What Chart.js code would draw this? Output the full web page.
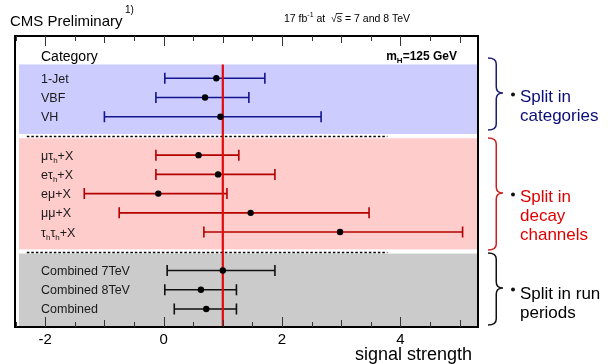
<!DOCTYPE html>
<html>
<head>
<meta charset="utf-8">
<script src="https://cdn.jsdelivr.net/npm/chart.js@4.4.1/dist/chart.umd.min.js"></script>
<style>
html,body{margin:0;padding:0;background:#fff;}
canvas{display:block;}
</style>
</head>
<body>
<canvas id="c" width="608" height="364"></canvas>
<script>
// ---- data ----
const catLabels  = ['1-Jet', 'VBF', 'VH'];
const catMu      = [0.89, 0.70, 0.96];
const catLo      = [0.02, -0.13, -1.00];
const catHi      = [1.71, 1.44, 2.66];

const decayLabels = ['μτ_{h}+X', 'eτ_{h}+X', 'eμ+X', 'μμ+X', 'τ_{h}τ_{h}+X'];
const decayMu     = [0.59, 0.92, -0.09, 1.47, 2.98];
const decayLo     = [-0.13, -0.13, -1.34, -0.75, 0.68];
const decayHi     = [1.27, 1.88, 1.07, 3.47, 5.05];

const runLabels = ['Combined 7TeV', 'Combined 8TeV', 'Combined'];
const runMu     = [1.00, 0.63, 0.72];
const runLo     = [0.06, 0.02, 0.18];
const runHi     = [1.88, 1.23, 1.23];

const xTickValues = [-2, 0, 2, 4];
const smValue = 1;

const groupNotes = [
  ['Split in', 'categories'],
  ['Split in', 'decay', 'channels'],
  ['Split in run', 'periods']
];

// ---- build groups (rows follow one after another, one blank row between groups) ----
const groups = [
  {labels: catLabels,   mu: catMu,   lo: catLo,   hi: catHi,   bar: '#14148c', band: '#ccccff', note: '#0c0c78', brace: '#1c1c70'},
  {labels: decayLabels, mu: decayMu, lo: decayLo, hi: decayHi, bar: '#b40000', band: '#ffcccc', note: '#e00000', brace: '#cc2020'},
  {labels: runLabels,   mu: runMu,   lo: runLo,   hi: runHi,   bar: '#111111', band: '#cbcbcb', note: '#000000', brace: '#111111'}
];
let row = 2;
groups.forEach(g => {
  g.rows = g.labels.map(() => row++);
  row++;
});

const FONT = '"Liberation Sans", Arial, Helvetica, sans-serif';

function drawSubText(ctx, text, x, y, size, subSize, bold) {
  const parts = text.split(/(_\{[^}]*\})/).filter(s => s.length);
  let cx = x;
  parts.forEach(p => {
    if (p.startsWith('_{')) {
      const s = p.slice(2, -1);
      ctx.font = (bold ? 'bold ' : '') + subSize + 'px ' + FONT;
      ctx.fillText(s, cx, y + 3);
      cx += ctx.measureText(s).width;
    } else {
      ctx.font = (bold ? 'bold ' : '') + size + 'px ' + FONT;
      ctx.fillText(p, cx, y);
      cx += ctx.measureText(p).width;
    }
  });
  return cx - x;
}

function drawBrace(ctx, xl, xt, top, bottom, tip, color) {
  const xm = xl + (xt - xl) * 0.55, r = 6;
  ctx.save();
  ctx.strokeStyle = color; ctx.lineWidth = 1.5;
  ctx.beginPath();
  ctx.moveTo(xl, top);
  ctx.quadraticCurveTo(xm, top, xm, top + r);
  ctx.lineTo(xm, tip - r);
  ctx.quadraticCurveTo(xm, tip, xt, tip);
  ctx.quadraticCurveTo(xm, tip, xm, tip + r);
  ctx.lineTo(xm, bottom - r);
  ctx.quadraticCurveTo(xm, bottom, xl, bottom);
  ctx.stroke();
  ctx.restore();
}

const cmsPlugin = {
  id: 'cms',
  beforeDatasetsDraw(chart) {
    const {ctx, chartArea: a, scales: {x, y}} = chart;
    ctx.save();
    // bands
    const bandL = a.left + 4, bandR = a.right - 1;
    groups.forEach((g, i) => {
      const first = g.rows[0], last = g.rows[g.rows.length - 1];
      const t = y.getPixelForValue(i === 0 ? first - 0.72 : first - 0.88);
      const b = i === groups.length - 1 ? a.bottom : y.getPixelForValue(last + 0.9);
      ctx.fillStyle = g.band;
      ctx.fillRect(bandL, t, bandR - bandL, b - t);
    });
    // dashed separators
    ctx.strokeStyle = '#000'; ctx.lineWidth = 1.5; ctx.setLineDash([2.5, 2]);
    for (let i = 0; i < groups.length - 1; i++) {
      const sep = (groups[i].rows[groups[i].rows.length - 1] + groups[i + 1].rows[0]) / 2;
      const py = Math.round(y.getPixelForValue(sep + 0.02)) + 0.5;
      ctx.beginPath();
      ctx.moveTo(x.getPixelForValue(-2.31), py);
      ctx.lineTo(x.getPixelForValue(3.78), py);
      ctx.stroke();
    }
    ctx.setLineDash([]);
    // error bars
    groups.forEach(g => {
      ctx.strokeStyle = g.bar; ctx.lineWidth = 1.6;
      g.rows.forEach((r, k) => {
        const py = y.getPixelForValue(r);
        const x1 = x.getPixelForValue(g.lo[k]), x2 = x.getPixelForValue(g.hi[k]);
        ctx.beginPath();
        ctx.moveTo(x1, py); ctx.lineTo(x2, py);
        ctx.moveTo(x1, py - 5.5); ctx.lineTo(x1, py + 5.5);
        ctx.moveTo(x2, py - 5.5); ctx.lineTo(x2, py + 5.5);
        ctx.stroke();
      });
    });
    // SM line
    const sx = x.getPixelForValue(smValue);
    ctx.strokeStyle = '#e00c0c'; ctx.lineWidth = 2.2;
    ctx.beginPath();
    ctx.moveTo(sx, y.getPixelForValue(groups[0].rows[0] - 0.72));
    ctx.lineTo(sx, a.bottom);
    ctx.stroke();
    ctx.restore();
  },
  afterDraw(chart) {
    const {ctx, chartArea: a, scales: {x, y}} = chart;
    ctx.save();
    // frame
    ctx.strokeStyle = '#000'; ctx.lineWidth = 2;
    ctx.strokeRect(a.left, a.top, a.right - a.left, a.bottom - a.top);
    // ticks (inside, top and bottom)
    ctx.strokeStyle = '#333'; ctx.lineWidth = 1;
    for (let v = -2.5; v <= 5.0001; v += 0.5) {
      const px = Math.round(x.getPixelForValue(v)) + 0.5;
      if (px <= a.left + 1 || px >= a.right - 1) continue;
      const len = (Math.abs(v % 2) < 1e-6) ? 10 : (Math.abs(v % 1) < 1e-6 ? 7 : 5);
      ctx.beginPath();
      ctx.moveTo(px, a.top); ctx.lineTo(px, a.top + len);
      ctx.moveTo(px, a.bottom); ctx.lineTo(px, a.bottom - len);
      ctx.stroke();
    }
    // tick labels
    ctx.fillStyle = '#000';
    ctx.font = '15px ' + FONT;
    ctx.textAlign = 'center'; ctx.textBaseline = 'middle';
    xTickValues.forEach(v => ctx.fillText(String(v), x.getPixelForValue(v), 340));
    // axis title
    ctx.textAlign = 'right'; ctx.textBaseline = 'alphabetic';
    ctx.font = '18px ' + FONT;
    ctx.fillText('signal strength', 472, 360);
    // headers
    ctx.textAlign = 'left';
    ctx.font = '15px ' + FONT;
    ctx.fillText('CMS Preliminary', 10, 26);
    ctx.font = '10px ' + FONT;
    ctx.fillText('1)', 125, 13);
    // lumi text
    ctx.font = '10.5px ' + FONT;
    let cx = 284;
    ctx.fillText('17 fb', cx, 22); cx += ctx.measureText('17 fb').width;
    ctx.font = '7px ' + FONT;
    ctx.fillText('-1', cx, 17); cx += ctx.measureText('-1').width;
    ctx.font = '10.5px ' + FONT;
    ctx.fillText(' at  √', cx, 22); cx += ctx.measureText(' at  √').width;
    const sw = ctx.measureText('s').width;
    ctx.fillText('s', cx, 22);
    ctx.lineWidth = 0.8; ctx.strokeStyle = '#000';
    ctx.beginPath(); ctx.moveTo(cx - 1, 13.5); ctx.lineTo(cx + sw + 0.5, 13.5); ctx.stroke();
    cx += sw;
    ctx.fillText(' = 7 and 8 TeV', cx, 22);
    // Category
    ctx.font = '14px ' + FONT;
    ctx.fillText('Category', 41, 61);
    // mH
    ctx.font = 'bold 12px ' + FONT;
    const w1 = ctx.measureText('m').width, w3 = ctx.measureText('=125 GeV').width;
    ctx.font = 'bold 8px ' + FONT;
    const w2 = ctx.measureText('H').width;
    let mx = 457 - (w1 + w2 + w3);
    drawSubText(ctx, 'm_{H}=125 GeV', mx, 60, 12, 8, true);
    // row labels
    ctx.fillStyle = '#1a1a1a';
    groups.forEach(g => {
      g.rows.forEach((r, k) => {
        drawSubText(ctx, g.labels[k], 41, y.getPixelForValue(r) + 4.5, 12.5, 8, false);
      });
    });
    // braces & notes
    const braces = [
      {top: 58, bottom: 130, tip: 93, base: 101.5},
      {top: 138, bottom: 250, tip: 193, base: 201.5},
      {top: 253, bottom: 325, tip: 288, base: 298.5}
    ];
    braces.forEach((b, i) => {
      const g = groups[i];
      drawBrace(ctx, 488, 503, b.top, b.bottom, b.tip, g.brace);
      ctx.fillStyle = '#111';
      ctx.beginPath(); ctx.arc(513, b.tip + 1.5, 2, 0, Math.PI * 2); ctx.fill();
      ctx.fillStyle = g.note;
      ctx.font = '17px ' + FONT;
      groupNotes[i].forEach((t, j) => ctx.fillText(t, 520, b.base + j * 19));
    });
    ctx.restore();
  }
};

new Chart(document.getElementById('c'), {
  type: 'scatter',
  data: {
    datasets: groups.map(g => ({
      data: g.mu.map((m, k) => ({x: m, y: g.rows[k]})),
      pointRadius: 3.2,
      pointHoverRadius: 3.2,
      backgroundColor: '#000',
      borderWidth: 0
    }))
  },
  options: {
    responsive: false,
    animation: false,
    devicePixelRatio: 1,
    layout: {padding: {left: 15, right: 130, top: 36, bottom: 37}},
    plugins: {legend: {display: false}, tooltip: {enabled: false}},
    scales: {
      x: {type: 'linear', min: -2.51, max: 5.31, display: false},
      y: {type: 'linear', min: -0.2, max: 14.94, reverse: true, display: false}
    }
  },
  plugins: [cmsPlugin]
});
</script>
</body>
</html>
